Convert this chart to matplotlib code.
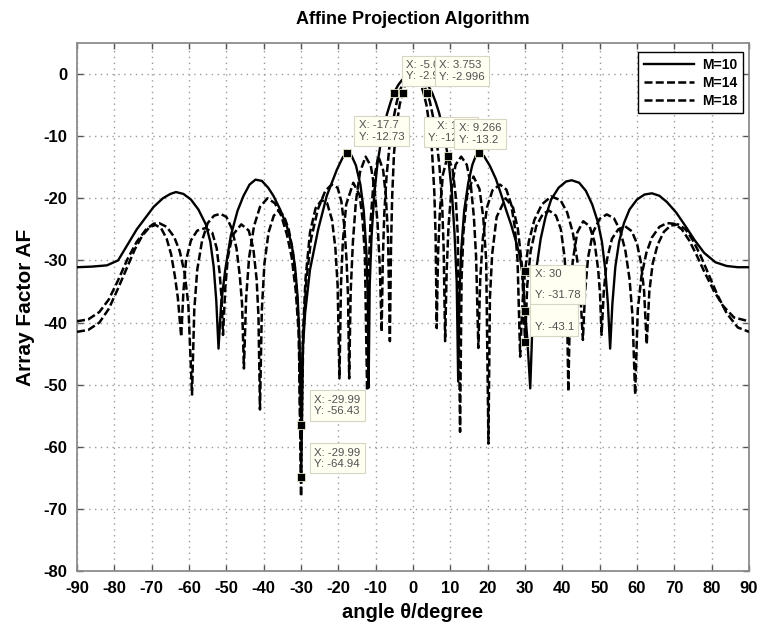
import matplotlib
matplotlib.use("Agg")
import matplotlib.pyplot as plt

plt.rcParams['font.family'] = ['Liberation Sans', 'DejaVu Sans']
plt.rcParams['font.weight'] = 'bold'
plt.rcParams['axes.unicode_minus'] = False

# ---- array factor (dB) versus angle (degree) ----
m10_deg = [-90, -86, -82, -79, -76.5, -74, -72, -69.5, -67, -65, -63.5, -61.5, -59.5, -57.5, -55.5,
           -54.3, -53.4, -52.7, -52.1,
           -51.4, -50.3, -48.8, -47, -45.4, -43.8, -42.2, -40.5, -38.8, -37.4, -35.6, -33.8, -32.5,
           -31.6, -30.9, -30.4, -29.99,
           -29.6, -28.9, -27.6, -25.4, -23.1, -20.4, -18.8, -17.7, -16.5, -15.3, -14.1, -13.2, -12.5,
           -12.1, -11.9,
           -11.6, -11.1, -10.4, -9.5, -8.3, -7.0, -6.0, -5.08, -4.0, -3.0, -2.0, -1.0, 0, 1, 2, 3, 4,
           5.1, 6, 7, 8.3, 9.5, 10.4, 11.1, 11.7, 12.1,
           12.4, 12.9, 13.7, 14.8, 15.9, 16.8, 17.7, 19.0, 20.6, 22.2, 23.5, 25, 26.3, 27.5, 28.5,
           29.3, 30.0, 30.6, 31.4,
           32.0, 33, 34.2, 35.5, 37, 39, 41, 42.5, 44.5, 46.3, 48, 49.5, 50.6, 51.5, 52.2, 52.8,
           53.4, 54.2, 55.2, 56.5, 58.0, 60, 62, 64, 66, 68, 70.5, 73, 75.5, 78, 81, 84, 87, 90]
m10_db = [-31.1, -31.0, -30.8, -30.0, -27.5, -25.0, -23.4, -21.4, -20.0, -19.3, -19.0, -19.3, -20.2, -21.8, -24.2,
          -27.0, -31.0, -36.5, -44.2,
          -37, -31.5, -26.0, -22.0, -19.6, -17.8, -17.0, -17.2, -18.3, -19.6, -21.8, -24.5, -27.5,
          -31, -36, -43, -56.43,
          -45, -38.5, -31.5, -25.0, -19.6, -15.4, -13.4, -12.73, -13.1, -14.7, -17.8, -22, -28.5,
          -36, -50.5,
          -34, -26, -19.5, -14.3, -9.8, -6.5, -4.5, -2.98, -1.8, -1.0, -0.45, -0.1, 0, -0.1, -0.45, -1.0, -1.8,
          -3.0, -4.4, -6.3, -9.6, -13.9, -19, -25.5, -33.5, -49.5,
          -36, -28.5, -22, -17.5, -14.6, -13.2, -12.73, -13.2, -14.8, -16.9, -19.2, -22, -24.3, -26.8, -29.0,
          -32, -38.2, -42.5, -50.6,
          -40, -31.5, -26.5, -23.0, -20.2, -18.3, -17.3, -17.1, -17.5, -18.8, -21, -23.8, -27, -31.5, -37, -44.2,
          -37, -31, -27, -24, -21.8, -20.2, -19.4, -19.2, -19.6, -20.6, -22.3, -24.5, -26.8, -28.8, -30.3,
          -30.9, -31.1, -31.1]

m14_deg = [-90, -87, -84, -81.5, -79, -76.5, -74, -71.5, -69.5, -68, -66, -64, -62.5, -61.2, -60.2, -59.2,
           -58.6, -57.8, -56.5, -55, -53.3, -51.6, -50, -48.6, -47.3, -46.4, -45.8, -45.3,
           -44.7, -43.9, -42.6, -41, -39, -37, -35.3, -33.8, -32.5, -31.4, -30.6, -29.99,
           -29.4, -28.6, -27.3, -25.5, -23.5, -21.8, -20.2, -19.2, -18.4, -17.8, -17.4, -17.1,
           -16.7, -16.1, -15.3, -14.2, -12.7, -11.3, -10.3, -9.5, -8.9, -8.4,
           -8.1, -7.7, -7.1, -6.3, -5.4, -4.5, -3.75, -3, -2, -1, 0, 1, 2, 3, 3.753, 4.5, 5.4, 6.3, 7.1,
           7.8, 8.2, 8.6,
           9.0, 9.5, 10.3, 11.4, 12.9, 14.4, 15.5, 16.3, 16.9, 17.5,
           18.0, 18.7, 19.8, 21.3, 23.3, 25.0, 26.3, 27.3, 28.0, 28.7,
           29.3, 30.0, 31, 32.5, 34.5, 37, 39.5, 41.3, 42.8, 44, 44.8, 45.5,
           46.1, 46.9, 48.2, 50, 51.9, 53.8, 55.5, 56.9, 58, 58.8, 59.5,
           60.2, 61.2, 62.5, 64, 66, 68, 70, 72, 74, 76, 78, 80.5, 83, 86, 90]
m14_db = [-39.8, -39.5, -38.3, -36.3, -33.2, -29.8, -27.0, -25.0, -24.1, -24.0, -24.6, -26.2, -28.5, -32, -37, -51.6,
          -38, -31.5, -26.8, -24, -22.8, -22.5, -23.0, -24.8, -28, -32.5, -37, -47.4,
          -36, -29.5, -24.5, -21.4, -20.0, -20.8, -22.8, -25.8, -29.5, -35, -42, -64.94,
          -42, -33.5, -26.5, -21.8, -18.8, -17.8, -18.3, -20.5, -24.5, -30, -36, -49,
          -35, -27, -20.5, -15.8, -13.3, -14.8, -18.5, -24, -31, -41.5,
          -30, -22.5, -16.5, -11.5, -7.7, -4.9, -3.0, -1.9, -0.85, -0.2, 0, -0.2, -0.85, -1.9, -2.996, -4.4,
          -7.0, -10.5, -15, -21, -28, -43,
          -32, -24.5, -18.5, -14.6, -13.3, -14.6, -18, -23, -29.5, -44.1,
          -33, -26.5, -21.5, -18.7, -17.8, -18.6, -21, -24.8, -30, -45.5,
          -37, -31.78, -27, -23.5, -21, -19.7, -20.3, -22.3, -25.5, -30, -35, -42.8,
          -35, -29.5, -25.5, -23.3, -22.6, -23.2, -25.2, -28.5, -33, -39, -51.6,
          -38, -32.5, -28.8, -26.3, -24.6, -24.0, -24.1, -25.0, -26.8, -29.2, -31.8, -34.8, -37.3, -39.2, -39.8]

m18_deg = [-90, -87, -84, -81.5, -79, -76.5, -74.5, -72.5, -70.5, -69, -67.5, -66, -64.8, -63.8, -63, -62.1,
           -61.5, -60.8, -59.5, -57.8, -55.6, -53.8, -52.6, -51.8, -51.3, -50.9,
           -50.3, -49.6, -48.4, -46.0, -44.0, -42.8, -41.9, -41.4, -41.0,
           -40.5, -39.8, -38.7, -37.3, -36, -34.6, -33.3, -32.2, -31.3, -30.6, -29.99,
           -29.5, -28.8, -27.6, -26.1, -24.5, -23, -21.7, -20.8, -20.2, -19.7,
           -19.3, -18.8, -17.9, -16, -14.3, -13.5, -12.9, -12.3,
           -11.9, -11.4, -10.6, -9.3, -8.0, -7.3, -6.7, -6.2,
           -5.9, -5.6, -5.1, -4.4, -3.6, -2.8, -2.1, -1.4, -0.7, 0, 0.7, 1.4, 2.1, 2.8, 3.6, 4.4, 5.1,
           5.7, 6.05, 6.35,
           6.7, 7.2, 8.0, 9.266, 10.6, 11.4, 12.0, 12.6,
           13.0, 13.5, 14.5, 16.2, 17.8, 18.8, 19.6, 20.2,
           20.6, 21.2, 22.4, 24.8, 26.8, 28.1, 29.2, 30.0,
           30.6, 31.5, 33, 34.8, 36.5, 38.3, 39.6, 40.6, 41.2, 41.6,
           42.1, 42.8, 44, 45.6, 47.3, 48.6, 49.6, 50.1, 50.5,
           51.1, 51.9, 53.3, 55, 56.8, 58.6, 60, 61.1, 61.9, 62.6,
           63.3, 64.2, 65.5, 67.2, 69, 71, 73, 75, 77, 79, 81.5, 84, 87, 90]
m18_db = [-41.5, -41.2, -40, -37.8, -34.5, -31, -28.2, -26.0, -24.6, -24.3, -24.8, -26.5, -29, -32.5, -36, -42.3,
          -35, -30, -26.8, -25.2, -24.8, -25.5, -28, -32, -36, -42,
          -34.5, -29.5, -26.0, -24.2, -25.2, -28, -33, -39, -54,
          -38, -30.5, -25.5, -22.8, -22.0, -22.8, -25.0, -28.5, -33.5, -40.5, -68,
          -42, -33, -25.5, -21.6, -20.3, -20.8, -23.5, -28, -34, -49,
          -34, -27, -21, -17.5, -19.5, -23.5, -29, -51,
          -32, -24, -17.5, -13.2, -15.5, -19.5, -26, -43,
          -28, -20, -12.8, -8.3, -5.0, -3.0, -1.65, -0.75, -0.2, 0, -0.2, -0.75, -1.65, -3.0, -5.0, -8.3, -12.5,
          -19, -26, -40.9,
          -29, -22, -16.2, -13.2, -15.3, -19.5, -26, -57.6,
          -33, -25.5, -19.5, -16.5, -18.5, -23, -30, -59.5,
          -36, -29, -23, -20, -21.5, -25, -31, -43.1,
          -34, -28.5, -24.5, -22.5, -22, -22.8, -25, -29.5, -35.5, -51.1,
          -36, -30, -25.5, -23.7, -24.5, -27, -31.5, -35.5, -42,
          -35, -30, -26.5, -25, -24.5, -25.3, -27.3, -30.5, -35, -43.5,
          -35, -30.5, -27.5, -25.4, -24.4, -24.2, -25.0, -26.8, -29.2, -32, -35.5, -38.5, -40.8, -41.5]

series_labels = ['M=10', 'M=14', 'M=18']

# data cursors with a text box (later ones drawn on top)
tip_x = [-5.08, 3.753, 17.7, 9.266, -17.7, -29.99, -29.99, 30, 30]
tip_y = [-2.98, -2.996, -12.73, -13.2, -12.73, -56.43, -64.94, -43.1, -31.78]
# data cursors whose boxes sit underneath the others
plain_tip_x = [-2.8, 30]
plain_tip_y = [-3.0, -38.2]

xticks = list(range(-90, 91, 10))
yticks = list(range(-80, 1, 10))

fig = plt.figure(figsize=(7.65, 6.31), dpi=100)
ax = fig.add_axes([0.1007, 0.0951, 0.8784, 0.8368])

ax.plot(m10_deg, m10_db, color='black', lw=1.7, label=series_labels[0], zorder=3)
ax.plot(m14_deg, m14_db, color='black', lw=1.8, dashes=(3.2, 1.3), label=series_labels[1], zorder=3)
ax.plot(m18_deg, m18_db, color='black', lw=1.8, dashes=(3.2, 1.3), label=series_labels[2], zorder=3)

ax.set_xlim(-90, 90)
ax.set_ylim(-80, 5)
ax.set_xticks(xticks)
ax.set_yticks(yticks)
ax.tick_params(direction='in', length=4, width=1, top=True, right=True,
               labelsize=12, pad=7, color='#555555')
for lab in ax.get_xticklabels() + ax.get_yticklabels():
    lab.set_fontweight('bold')
ax.grid(True, color='#9a9a9a', linestyle=(0, (1, 3.2)), linewidth=1.0)
for sp in ax.spines.values():
    sp.set_color('#8c8c8c')
    sp.set_linewidth(1.3)

ax.set_xlabel('angle θ/degree', fontsize=14.5, fontweight='bold', labelpad=5)
ax.set_ylabel('Array Factor AF', fontsize=15, fontweight='bold', labelpad=6)
ax.set_title('Affine Projection Algorithm', fontsize=13, fontweight='bold', pad=14)

leg = ax.legend(loc='upper right', bbox_to_anchor=(0.991, 0.983), fancybox=False,
                edgecolor='black', framealpha=1, handlelength=3.6, borderpad=0.4,
                labelspacing=0.3, handletextpad=0.6, borderaxespad=0,
                prop={'weight': 'bold', 'size': 10})
leg.get_frame().set_linewidth(1.0)
leg.set_zorder(6)


def fmt(v):
    return ('%.4g' % v)


# box placement for each cursor tip: offset in points, alignment, line spacing
tip_style = [
    ((8.5, 8.0), 'left', 'bottom', 1.2),
    ((8.5, 8.0), 'left', 'bottom', 1.2),
    ((-4.0, 7.5), 'right', 'bottom', 1.2),
    ((8.0, 8.0), 'left', 'bottom', 1.2),
    ((8.5, 8.0), 'left', 'bottom', 1.2),
    ((9.5, 6.0), 'left', 'bottom', 1.2),
    ((9.5, 6.0), 'left', 'bottom', 1.2),
    ((7.0, 7.0), 'left', 'bottom', 3.0),
    ((7.0, 1.5), 'left', 'top', 2.3),
]
ax.plot(plain_tip_x, plain_tip_y, marker='s', ms=5.5, mfc='black', mec='#e8e8c8', mew=0.6,
        zorder=5.5, linestyle='none')
for i, (tx, ty) in enumerate(zip(tip_x, tip_y)):
    (dx, dy), ha, va, ls = tip_style[i]
    ax.annotate('X: %s\nY: %s' % (fmt(tx), fmt(ty)), xy=(tx, ty), xytext=(dx, dy),
                textcoords='offset points', ha=ha, va=va, fontsize=8.2,
                fontweight='normal', color='#505050', linespacing=ls,
                bbox=dict(boxstyle='square,pad=0.38', fc='#fffff2', ec='#d6d6c2', lw=0.8),
                zorder=5 + 0.01 * i, annotation_clip=False)
    ax.plot([tx], [ty], marker='s', ms=5.5, mfc='black', mec='#e8e8c8', mew=0.6,
            zorder=5.5, linestyle='none')

fig.savefig('out.png', dpi=100)
